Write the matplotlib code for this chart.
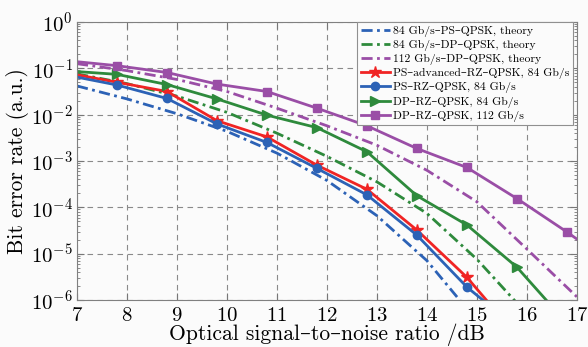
import numpy as np
import matplotlib
matplotlib.use("Agg")
import matplotlib.pyplot as plt
from matplotlib.ticker import LogLocator, NullFormatter, MultipleLocator

plt.rcParams["font.family"] = ["cmr10", "DejaVu Serif"]
plt.rcParams["mathtext.fontset"] = "cm"
plt.rcParams["axes.formatter.use_mathtext"] = True

# theory curves (integer OSNR points), log10(BER)
osnr_th = [7, 8, 9, 10, 11, 12, 13, 14, 15, 16, 17]
th_ps_84 = [-1.38, -1.66, -1.98, -2.36, -2.83, -3.42, -4.18, -5.15, -6.45, -7.8, -9.0]
th_dp_84 = [-1.12, -1.33, -1.60, -1.95, -2.40, -2.90, -3.45, -4.13, -5.12, -6.30, -7.6]
th_dp_112 = [-0.90, -1.05, -1.24, -1.50, -1.86, -2.24, -2.66, -3.20, -3.88, -4.90, -5.93]

# measured curves: first point at 7 dB, markers at 7.8 ... 16.8 dB
osnr_meas = [7, 7.8, 8.8, 9.8, 10.8, 11.8, 12.8, 13.8, 14.8, 15.8, 16.8, 17.8]
ps_adv_84 = [-1.14, -1.30, -1.50, -2.13, -2.48, -3.09, -3.61, -4.49, -5.51, -6.77]
ps_rz_84 = [-1.19, -1.36, -1.65, -2.20, -2.60, -3.16, -3.73, -4.60, -5.72, -6.60]
dp_rz_84 = [-1.07, -1.13, -1.35, -1.66, -2.01, -2.28, -2.80, -3.75, -4.38, -5.29, -6.50]
dp_rz_112 = [-0.857, -0.943, -1.09, -1.34, -1.50, -1.86, -2.24, -2.73, -3.14, -3.81, -4.53, -5.30]

BLUE = "#2c62b6"
GREEN = "#2e8a3c"
PURPLE = "#9a4ea6"
RED = "#f02424"
DASHDOT = (0, (4.0, 1.6, 1.0, 1.6))

fig = plt.figure(figsize=(5.88, 3.47), dpi=100, facecolor="#fbfbfb")
ax = fig.add_axes([0.131, 0.1354, 0.85, 0.8012])
ax.set_facecolor("#fbfbfb")

for vals, col, lab in [
    (th_ps_84, BLUE, "84 Gb/s–PS–QPSK, theory"),
    (th_dp_84, GREEN, "84 Gb/s–DP–QPSK, theory"),
    (th_dp_112, PURPLE, "112 Gb/s–DP–QPSK, theory"),
]:
    ax.plot(osnr_th, 10.0 ** np.array(vals), color=col, lw=2.0,
            linestyle=DASHDOT, label=lab)

series = [
    (ps_adv_84, RED, "*", 9, "PS–advanced–RZ–QPSK, 84 Gb/s", 9),
    (ps_rz_84, BLUE, "o", 6, "PS–RZ–QPSK, 84 Gb/s", 9),
    (dp_rz_84, GREEN, ">", 7, "DP–RZ–QPSK, 84 Gb/s", 10),
    (dp_rz_112, PURPLE, "s", 6, "DP–RZ–QPSK, 112 Gb/s", 11),
]
for vals, col, mk, ms, lab, nm in series:
    x = osnr_meas[:len(vals)]
    ax.plot(x, 10.0 ** np.array(vals), color=col, lw=2.0, marker=mk,
            markersize=ms, markevery=list(range(1, nm)), label=lab)

ax.set_yscale("log")
ax.set_xlim(7, 17)
ax.set_ylim(1e-6, 1)
ax.xaxis.set_major_locator(MultipleLocator(1))
ax.yaxis.set_major_locator(LogLocator(base=10, numticks=10))
ax.yaxis.set_minor_locator(LogLocator(base=10, subs=np.arange(2, 10), numticks=10))
ax.yaxis.set_minor_formatter(NullFormatter())
ax.tick_params(which="both", direction="in", top=True, right=True,
               color="#777777", labelsize=15, pad=3)
ax.tick_params(axis="x", which="major", pad=5)
ax.tick_params(which="major", length=5)
ax.tick_params(which="minor", length=2.5)
for s in ax.spines.values():
    s.set_color("#808080")
    s.set_linewidth(0.8)

ax.grid(True, which="major", color="#8a8a8a", linestyle=(0, (5, 4)), lw=0.8)
ax.set_xlabel("Optical signal–to–noise ratio /dB", fontsize=15.5, labelpad=-1)
ax.set_ylabel("Bit error rate (a.u.)", fontsize=15.5, labelpad=1)

leg = ax.legend(loc="upper right", bbox_to_anchor=(0.992, 1.0), fontsize=8.4,
                frameon=True, fancybox=False,
                handlelength=2.5, handletextpad=0.25, labelspacing=0.26,
                borderpad=0.3, borderaxespad=0.0, framealpha=1)
leg.get_frame().set_edgecolor("#909090")
leg.get_frame().set_linewidth(0.8)
leg.get_frame().set_facecolor("#fbfbfb")

fig.savefig("out.png", dpi=100, facecolor=fig.get_facecolor())
